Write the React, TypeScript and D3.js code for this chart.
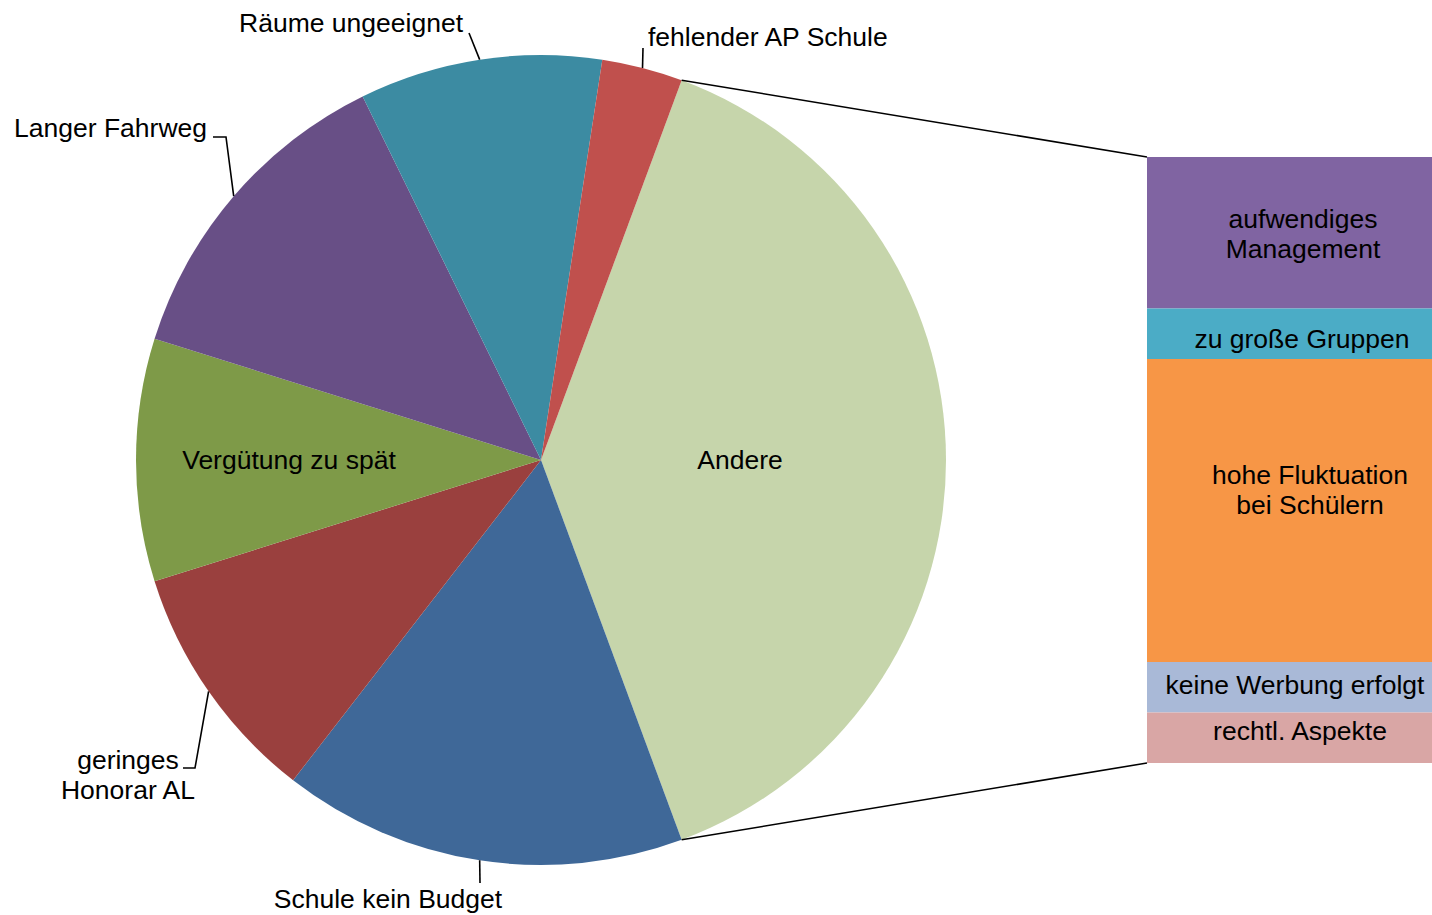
import React from "react";
import * as d3 from "d3";

// ---- data ----
const pieCategories = [
  "Andere",
  "Schule kein Budget",
  "geringes Honorar AL",
  "Vergütung zu spät",
  "Langer Fahrweg",
  "Räume ungeeignet",
  "fehlender AP Schule",
];
const pieValues = [12, 5, 3, 3, 4, 3, 1];
const pieColors = ["#C6D5AB", "#3F6898", "#9A403E", "#7E9A48", "#684F86", "#3C8BA2", "#C0504D"];

const barCategories = [
  "aufwendiges Management",
  "zu große Gruppen",
  "hohe Fluktuation bei Schülern",
  "keine Werbung erfolgt",
  "rechtl. Aspekte",
];
const barLabelLines = [
  ["aufwendiges", "Management"],
  ["zu große Gruppen"],
  ["hohe Fluktuation", "bei Schülern"],
  ["keine Werbung erfolgt"],
  ["rechtl. Aspekte"],
];
const barValues = [3, 1, 6, 1, 1];
const barColors = ["#8064A2", "#4BACC6", "#F79646", "#A9B9D7", "#D9A6A5"];

// ---- layout ----
const W = 1432;
const H = 915;
const cx = 541;
const cy = 460;
const R = 405;
const barX = 1147;
const barW = 310;
const barTop = 157;
const barBottom = 763;
const FONT = "'Liberation Sans', Arial, Helvetica, sans-serif";
const FS = 26.5;

type LabelLayout = {
  lines: string[];
  x: number;
  y: number;
  anchor: "start" | "middle" | "end";
  leader?: [number, number][];
};
const labelLayouts: LabelLayout[] = [
  { lines: ["Andere"], x: 740, y: 469, anchor: "middle" },
  { lines: ["Schule kein Budget"], x: 388, y: 908, anchor: "middle", leader: [[480, 883]] },
  { lines: ["geringes", "Honorar AL"], x: 128, y: 769, anchor: "middle", leader: [[195, 768], [183, 768]] },
  { lines: ["Vergütung zu spät"], x: 289, y: 469, anchor: "middle" },
  { lines: ["Langer Fahrweg"], x: 207, y: 137, anchor: "end", leader: [[226, 137], [213, 137]] },
  { lines: ["Räume ungeeignet"], x: 463, y: 32, anchor: "end", leader: [[469, 33]] },
  { lines: ["fehlender AP Schule"], x: 648, y: 46, anchor: "start", leader: [[643, 48]] },
];
const barLabelX = [1303, 1302, 1310, 1295, 1300];
const barLabelDy = [-4.5, 14.5, -26.5, 6.5, 2.5]; // first baseline offset from segment middle

export default function App() {
  const total = d3.sum(pieValues);
  const otherAngle = (2 * Math.PI * pieValues[0]) / total;
  const start = Math.PI / 2 - otherAngle / 2;
  const pie = d3
    .pie<number>()
    .sort(null)
    .value((d) => d)
    .startAngle(start)
    .endAngle(start + 2 * Math.PI);
  const arcs = pie(pieValues);
  const arcGen = d3.arc<d3.PieArcDatum<number>>().innerRadius(0).outerRadius(R);

  const pt = (a: number, r: number): [number, number] => [cx + r * Math.sin(a), cy - r * Math.cos(a)];

  const y = d3.scaleLinear().domain([0, d3.sum(barValues)]).range([barTop, barBottom]);
  const cum = [0];
  barValues.forEach((v, i) => cum.push(cum[i] + v));

  const a0 = arcs[0];
  const pTop = pt(a0.startAngle, R);
  const pBot = pt(a0.endAngle, R);

  return (
    <svg
      width={W}
      height={H}
      style={{ position: "absolute", left: 0, top: 0, background: "#fff" }}
      fontFamily={FONT}
      fontSize={FS}
    >
      <g transform={`translate(${cx},${cy})`}>
        {arcs.map((a, i) => (
          <path key={pieCategories[i]} d={arcGen(a) || ""} fill={pieColors[i]} />
        ))}
      </g>
      <line x1={pTop[0]} y1={pTop[1]} x2={barX} y2={y(0)} stroke="#000" strokeWidth={1.6} />
      <line x1={pBot[0]} y1={pBot[1]} x2={barX} y2={y(d3.sum(barValues))} stroke="#000" strokeWidth={1.6} />
      {barValues.map((v, i) => (
        <rect key={barCategories[i]} x={barX} y={y(cum[i])} width={barW} height={y(cum[i + 1]) - y(cum[i])} fill={barColors[i]} />
      ))}
      {barValues.map((v, i) => {
        const lines = barLabelLines[i];
        const mid = (y(cum[i]) + y(cum[i + 1])) / 2;
        const firstBase = mid + barLabelDy[i];
        return (
          <text key={"bl" + i} x={barLabelX[i]} textAnchor="middle" fill="#000">
            {lines.map((l, j) => (
              <tspan key={j} x={barLabelX[i]} y={firstBase + j * 30}>
                {l}
              </tspan>
            ))}
          </text>
        );
      })}
      {arcs.map((a, i) => {
        const L = labelLayouts[i];
        const mid = (a.startAngle + a.endAngle) / 2;
        const p = pt(mid, R);
        return (
          <g key={"pl" + i}>
            {L.leader && (
              <polyline
                points={[p, ...L.leader].map((q) => q.join(",")).join(" ")}
                fill="none"
                stroke="#000"
                strokeWidth={1.6}
              />
            )}
            <text x={L.x} y={L.y} textAnchor={L.anchor} fill="#000">
              {L.lines.map((l, j) => (
                <tspan key={j} x={L.x} y={L.y + j * 30}>
                  {l}
                </tspan>
              ))}
            </text>
          </g>
        );
      })}
    </svg>
  );
}
